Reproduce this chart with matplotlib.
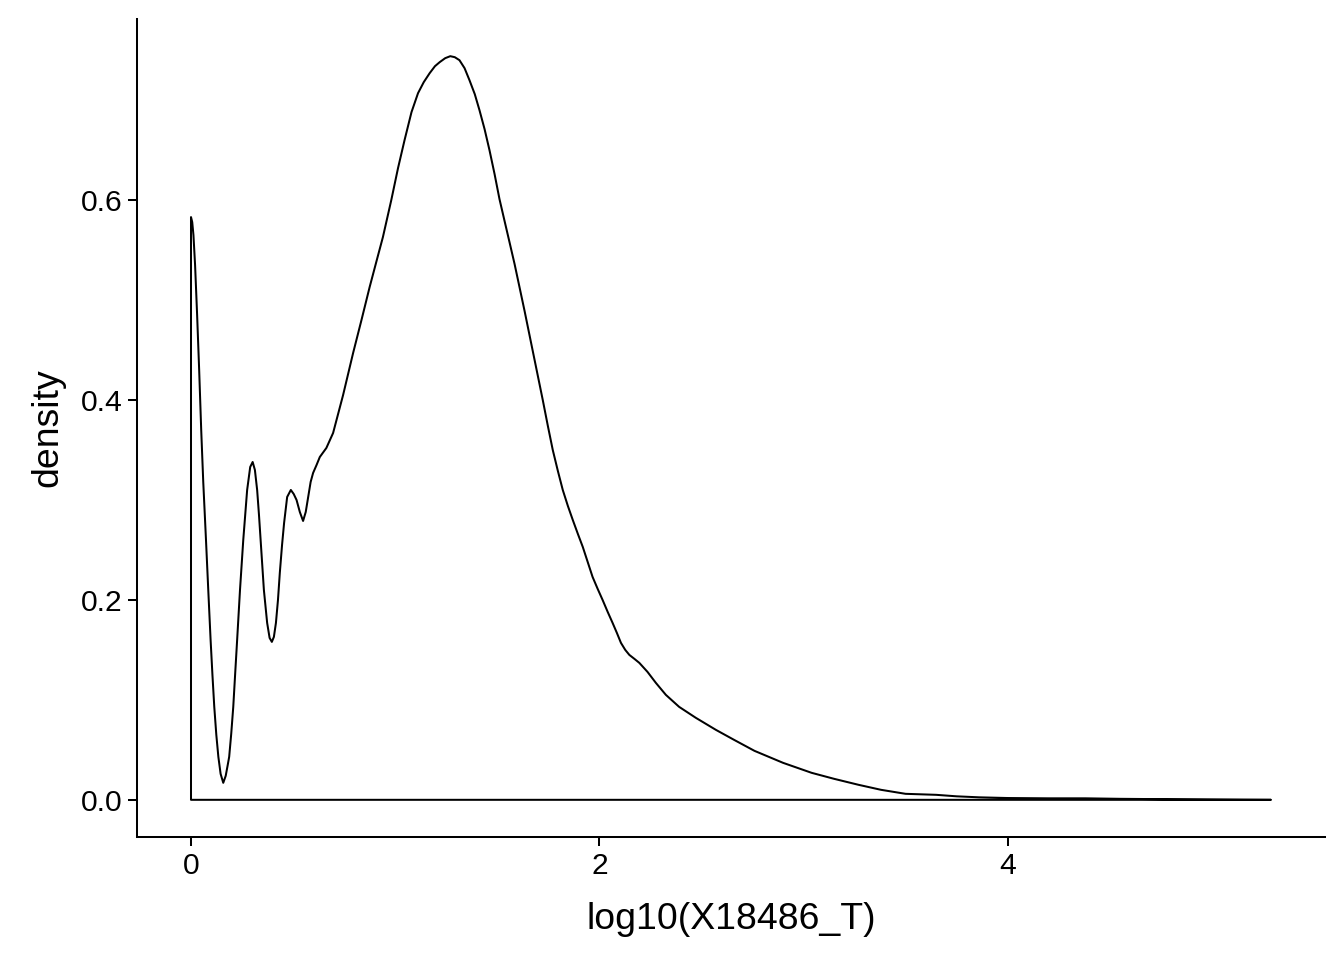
import numpy as np
import matplotlib
matplotlib.use("Agg")
import matplotlib.pyplot as plt

# Density curve values
x_vals = [0.000, 0.006, 0.012, 0.020, 0.030, 0.040, 0.050, 0.060, 0.0734, 0.085,
          0.096, 0.105, 0.114, 0.124, 0.134, 0.145, 0.158, 0.170, 0.180, 0.187,
          0.197, 0.207, 0.216, 0.226, 0.240, 0.256, 0.275, 0.290, 0.302, 0.313,
          0.324, 0.333, 0.341, 0.357, 0.373, 0.385, 0.396, 0.406, 0.416, 0.426,
          0.435, 0.446, 0.456, 0.471, 0.489, 0.503, 0.517, 0.533, 0.549, 0.562,
          0.574, 0.586, 0.598, 0.615, 0.631, 0.663, 0.696, 0.745, 0.794, 0.835,
          0.875, 0.910, 0.940, 0.981, 1.014, 1.046, 1.080, 1.112, 1.140, 1.169,
          1.195, 1.218, 1.245, 1.270, 1.292, 1.315, 1.340, 1.364, 1.390, 1.413,
          1.438, 1.462, 1.487, 1.511, 1.536, 1.560, 1.585, 1.609, 1.634, 1.658,
          1.683, 1.707, 1.723, 1.748, 1.772, 1.797, 1.821, 1.846, 1.870, 1.895,
          1.919, 1.943, 1.967, 1.992, 2.016, 2.041, 2.065, 2.086, 2.106, 2.127,
          2.147, 2.172, 2.196, 2.236, 2.277, 2.326, 2.391, 2.473, 2.571, 2.660,
          2.760, 2.900, 3.040, 3.150, 3.270, 3.380, 3.500, 3.650, 3.750, 3.860,
          4.000, 4.200, 4.380, 4.550, 4.790, 5.000, 5.160, 5.290]
density_vals = [0.583, 0.578, 0.565, 0.535, 0.485, 0.430, 0.370, 0.318, 0.260, 0.208,
                0.160, 0.125, 0.093, 0.065, 0.043, 0.026, 0.017, 0.024, 0.035, 0.043,
                0.066, 0.093, 0.125, 0.160, 0.210, 0.260, 0.310, 0.333, 0.338, 0.330,
                0.310, 0.285, 0.260, 0.210, 0.177, 0.162, 0.158, 0.163, 0.177, 0.200,
                0.227, 0.255, 0.277, 0.303, 0.310, 0.306, 0.300, 0.288, 0.279, 0.288,
                0.303, 0.318, 0.327, 0.335, 0.343, 0.352, 0.367, 0.405, 0.447, 0.480,
                0.513, 0.540, 0.563, 0.600, 0.632, 0.660, 0.688, 0.707, 0.718, 0.727,
                0.734, 0.738, 0.742, 0.744, 0.743, 0.740, 0.732, 0.720, 0.706, 0.690,
                0.671, 0.650, 0.626, 0.601, 0.579, 0.558, 0.536, 0.513, 0.489, 0.465,
                0.440, 0.416, 0.400, 0.374, 0.350, 0.329, 0.310, 0.294, 0.280, 0.266,
                0.253, 0.238, 0.223, 0.211, 0.200, 0.188, 0.177, 0.167, 0.157, 0.150,
                0.145, 0.141, 0.137, 0.128, 0.117, 0.105, 0.093, 0.082, 0.070, 0.060,
                0.049, 0.037, 0.027, 0.021, 0.015, 0.010, 0.006, 0.005, 0.0035, 0.0025,
                0.0018, 0.0015, 0.0015, 0.0010, 0.0006, 0.0003, 0.0001, 0.0]

x_ticks = [0, 2, 4]
y_ticks = [0.0, 0.2, 0.4, 0.6]
x_label = "log10(X18486_T)"
y_label = "density"

plt.rcParams['font.family'] = ['Liberation Sans', 'DejaVu Sans']

fig = plt.figure(figsize=(13.44, 9.6), dpi=100)
ax = fig.add_axes([137/1344, 1 - 837/960, (1325-137)/1344, (837-19)/960])

xs = np.asarray(x_vals)
ys = np.asarray(density_vals)
px = np.concatenate([xs, [xs[-1], xs[0], xs[0]]])
py = np.concatenate([ys, [0.0, 0.0, ys[0]]])
ax.fill(px, py, facecolor='none', edgecolor='black', linewidth=1.45, joinstyle='round')

xmin, xmax = 0.0, xs.max()
ymin, ymax = 0.0, ys.max()
xr, yr = xmax - xmin, ymax - ymin
ax.set_xlim(xmin - 0.05 * xr, xmax + 0.05 * xr)
ax.set_ylim(ymin - 0.05 * yr, ymax + 0.05 * yr)

ax.set_xticks(x_ticks)
ax.set_xticklabels([str(t) for t in x_ticks])
ax.set_yticks(y_ticks)
ax.set_yticklabels([f"{t:.1f}" for t in y_ticks])

for side in ['top', 'right']:
    ax.spines[side].set_visible(False)
for side in ['left', 'bottom']:
    ax.spines[side].set_linewidth(1.45)
    ax.spines[side].set_color('black')

ax.tick_params(axis='both', length=6.5, width=1.45, color='black',
               labelsize=21.6, labelcolor='black', pad=4)
ax.set_xlabel(x_label, fontsize=26.9, color='black', labelpad=16)
ax.set_ylabel(y_label, fontsize=26.9, color='black', labelpad=11)

fig.savefig("out.png", dpi=100, facecolor='white')
